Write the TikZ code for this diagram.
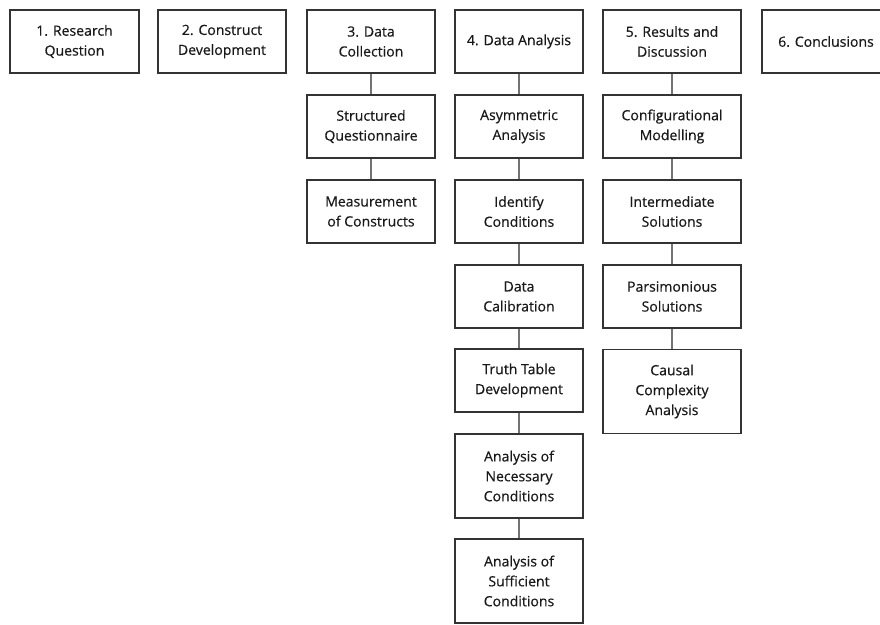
\documentclass[tikz,border=0pt]{standalone}
\usepackage{fontspec}
\setmainfont{Open Sans}
\newfontfamily\boxfont{Open Sans}[FakeBold=0.5]

\begin{document}
\begin{tikzpicture}[x=0.03cm, y=-0.03cm,
    box/.style={draw=black!80, line width=1.4pt, fill=white, minimum width=3.84cm, minimum height=1.89cm,
      align=center, inner sep=0pt, text=black!90, font=\boxfont\fontsize{12}{17}\selectfont},
    tallbox/.style={box, minimum height=2.52cm},
    widebox/.style={minimum width=4.14cm},
    link/.style={draw=black!55, line width=1.2pt}]
  \useasboundingbox (0,0) rectangle (880,625);

  % top row
  \node[box, minimum width=3.87cm] (rq) at (74.5, 41.5) {1. Research\\Question};
  \node[box] (cd) at (222, 41.5) {2. Construct\\Development};
  \node[box] (dc) at (371, 41.5) {3. Data\\Collection};
  \node[box] (da) at (519, 41.5) {4. Data Analysis};
  \node[box, widebox] (rd) at (672, 41.5) {5. Results and\\Discussion};
  \node[box] (co) at (826, 41.5) {6. Conclusions};

  % data collection
  \node[box] (sq) at (371, 126.5) {Structured\\Questionnaire};
  \node[box] (mc) at (371, 211.5) {Measurement\\of Constructs};

  % data analysis
  \node[box] (aa) at (519, 126.5) {Asymmetric\\Analysis};
  \node[box] (ic) at (519, 211.5) {Identify\\Conditions};
  \node[box] (cal) at (519, 296.5) {Data\\Calibration};
  \node[box] (tt) at (519, 380.5) {Truth Table\\Development};
  \node[tallbox] (nc) at (519, 476) {Analysis of\\Necessary\\Conditions};
  \node[tallbox] (sc) at (519, 581) {Analysis of\\Sufficient\\Conditions};

  % results and discussion
  \node[box, widebox] (cm) at (672, 126.5) {Configurational\\Modelling};
  \node[box, widebox] (is) at (672, 211.5) {Intermediate\\Solutions};
  \node[box, widebox] (ps) at (672, 296.5) {Parsimonious\\Solutions};
  \node[tallbox, widebox] (cc) at (672, 391.5) {Causal\\Complexity\\Analysis};

  \draw[link] (dc) -- (sq);
  \draw[link] (sq) -- (mc);
  \draw[link] (da) -- (aa);
  \draw[link] (aa) -- (ic);
  \draw[link] (ic) -- (cal);
  \draw[link] (cal) -- (tt);
  \draw[link] (tt) -- (nc);
  \draw[link] (nc) -- (sc);
  \draw[link] (rd) -- (cm);
  \draw[link] (cm) -- (is);
  \draw[link] (is) -- (ps);
  \draw[link] (ps) -- (cc);
\end{tikzpicture}
\end{document}
